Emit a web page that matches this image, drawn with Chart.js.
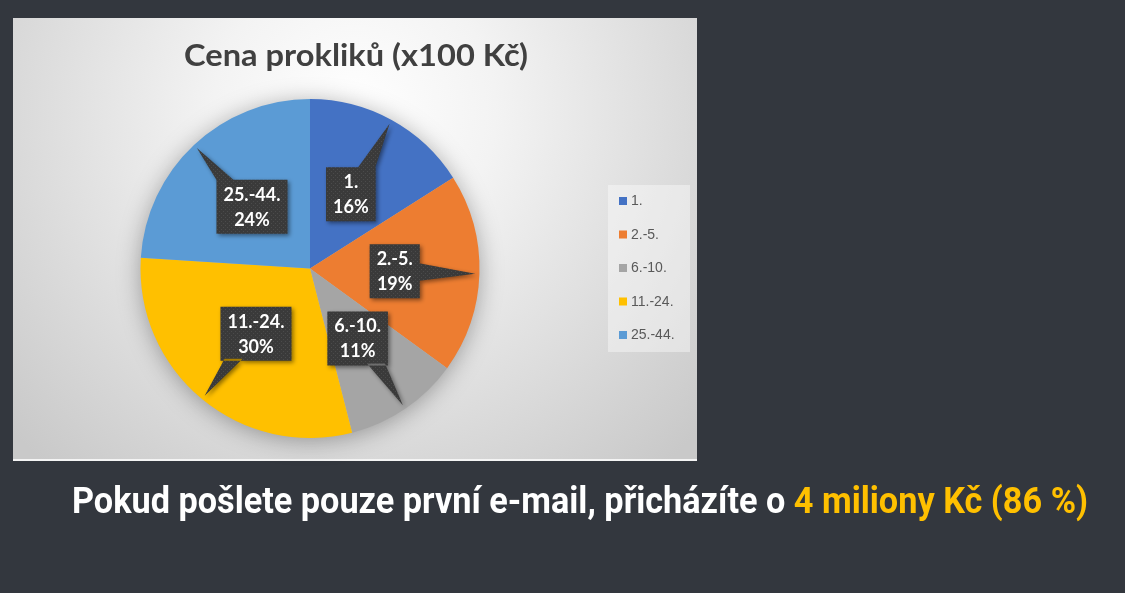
<!DOCTYPE html>
<html>
<head>
<meta charset="utf-8">
<script src="https://cdn.jsdelivr.net/npm/chart.js@4.4.1/dist/chart.umd.min.js"></script>
<style>
  html, body { margin:0; padding:0; background:#33373e; width:1125px; height:593px; overflow:hidden; }
  #wrap { position:absolute; left:0; top:0; width:1125px; height:593px; }
  #note { position:absolute; left:72px; top:481px; white-space:nowrap; font-family:Roboto, sans-serif; font-weight:700;
          font-size:37px; line-height:40px; color:#ffffff; transform-origin:0 0; }
  #note .hl { color:#ffc000; }
</style>
</head>
<body>
<div id="wrap"><canvas id="c" width="1125" height="593"></canvas></div>
<div id="note">Pokud pošlete pouze první e-mail, přicházíte o <span class="hl">4 miliony Kč (86 %)</span></div>
<script>
const categories = ['1.', '2.-5.', '6.-10.', '11.-24.', '25.-44.'];
const shares = [16, 19, 11, 30, 24];
const colors = ['#4472c4', '#ed7d31', '#a5a5a5', '#ffc000', '#5b9bd5'];
const chartTitle = 'Cena prokliků (x100 Kč)';

// fit bottom note width
(function(){
  const n = document.getElementById('note');
  const w = n.getBoundingClientRect().width;
  n.style.transform = 'scaleX(' + (1016 / w) + ')';
})();

const panel = {x:13, y:18, w:684, h:442};

function makePattern(ctx){
  const pc = document.createElement('canvas');
  pc.width = 4; pc.height = 4;
  const p = pc.getContext('2d');
  p.fillStyle = '#3a3a3a'; p.fillRect(0,0,4,4);
  p.fillStyle = '#4b4b4b'; p.fillRect(1,1,1,1); p.fillRect(3,3,1,1);
  return ctx.createPattern(pc, 'repeat');
}

const panelPlugin = {
  id: 'panel',
  beforeDraw(chart){
    const ctx = chart.ctx;
    ctx.save();
    const g = ctx.createRadialGradient(355, 110, 0, 355, 110, 470);
    g.addColorStop(0, '#ffffff');
    g.addColorStop(0.3, '#f3f3f3');
    g.addColorStop(1, '#c9c9c9');
    ctx.fillStyle = g;
    ctx.fillRect(panel.x, panel.y, panel.w, panel.h);
    ctx.fillStyle = '#f4f4f4';
    ctx.fillRect(panel.x, panel.y + panel.h - 1, panel.w, 2);
    // title
    ctx.fillStyle = '#404040';
    ctx.font = 'bold 31px Lato, "Open Sans", sans-serif';
    ctx.textAlign = 'center';
    ctx.textBaseline = 'alphabetic';
    const tw = ctx.measureText(chartTitle).width;
    const sx = 344 / tw;
    ctx.translate(356, 66);
    ctx.scale(sx, 1);
    ctx.fillText(chartTitle, 0, 0);
    ctx.restore();
  },
  beforeDatasetsDraw(chart){
    const meta = chart.getDatasetMeta(0);
    if (!meta.data.length) return;
    const a = meta.data[0];
    const ctx = chart.ctx;
    ctx.save();
    ctx.shadowColor = 'rgba(0,0,0,0.35)';
    ctx.shadowBlur = 24;
    ctx.shadowOffsetY = 3;
    ctx.fillStyle = '#bbbbbb';
    ctx.beginPath();
    ctx.arc(a.x, a.y, a.outerRadius - 1, 0, Math.PI * 2);
    ctx.fill();
    ctx.restore();
  },
  afterDatasetsDraw(chart){
    const ctx = chart.ctx;
    const meta = chart.getDatasetMeta(0);
    const data = chart.data.datasets[0].data;
    const sum = data.reduce((s, v) => s + v, 0);
    const pat = makePattern(ctx);
    ctx.save();
    ctx.font = 'bold 18px Lato, "Open Sans", sans-serif';
    meta.data.forEach((arc, i) => {
      const p = arc.getProps(['x','y','startAngle','endAngle','outerRadius'], true);
      const mid = (p.startAngle + p.endAngle) / 2;
      const R = p.outerRadius;
      const cx = p.x + Math.cos(mid) * R * 0.5;
      const cy = p.y + Math.sin(mid) * R * 0.5;
      const tx = p.x + Math.cos(mid) * R * 0.975;
      const ty = p.y + Math.sin(mid) * R * 0.975;
      const l1 = chart.data.labels[i];
      const l2 = Math.round(data[i] / sum * 100) + '%';
      const tw = Math.max(ctx.measureText(l1).width, ctx.measureText(l2).width);
      const hw = tw / 2 + 7, hh = 27;
      const dx = tx - cx, dy = ty - cy;
      const tX = Math.abs(dx) > 1e-6 ? hw / Math.abs(dx) : Infinity;
      const tY = Math.abs(dy) > 1e-6 ? hh / Math.abs(dy) : Infinity;
      let b1, b2;
      const bw = 9;
      if (tX < tY) {
        const ex = cx + Math.sign(dx) * (hw - 2);
        let yy = cy + dy * tX;
        yy = Math.max(cy - hh + bw, Math.min(cy + hh - bw, yy));
        b1 = [ex, yy - bw]; b2 = [ex, yy + bw];
      } else {
        const ey = cy + Math.sign(dy) * (hh - 2);
        let xx = cx + dx * tY;
        xx = Math.max(cx - hw + bw, Math.min(cx + hw - bw, xx));
        b1 = [xx - bw, ey]; b2 = [xx + bw, ey];
      }
      ctx.save();
      ctx.shadowColor = 'rgba(0,0,0,0.45)';
      ctx.shadowBlur = 4;
      ctx.shadowOffsetX = 2;
      ctx.shadowOffsetY = 2;
      ctx.fillStyle = pat;
      ctx.beginPath();
      ctx.rect(cx - hw, cy - hh, hw * 2, hh * 2);
      ctx.moveTo(b1[0], b1[1]);
      ctx.lineTo(tx, ty);
      ctx.lineTo(b2[0], b2[1]);
      ctx.closePath();
      ctx.fill('nonzero');
      ctx.restore();
      ctx.fillStyle = '#ffffff';
      ctx.textAlign = 'center';
      ctx.textBaseline = 'middle';
      ctx.fillText(l1, cx, cy - 12);
      ctx.fillText(l2, cx, cy + 13);
    });
    ctx.restore();
  },
  afterDraw(chart){
    const ctx = chart.ctx;
    ctx.save();
    ctx.fillStyle = 'rgba(255,255,255,0.4)';
    ctx.fillRect(608, 185, 82, 167);
    ctx.font = '14px "Liberation Sans", Arial, sans-serif';
    ctx.textBaseline = 'middle';
    ctx.textAlign = 'left';
    chart.data.labels.forEach((lab, i) => {
      const y = 185 + 16 + i * 33.5;
      ctx.fillStyle = chart.data.datasets[0].backgroundColor[i];
      ctx.fillRect(619, y - 4, 8, 8);
      ctx.fillStyle = '#595959';
      ctx.fillText(lab, 631, y + 0.5);
    });
    ctx.restore();
  }
};

new Chart(document.getElementById('c'), {
  type: 'pie',
  data: {
    labels: categories,
    datasets: [{ data: shares, backgroundColor: colors, borderWidth: 0 }]
  },
  options: {
    responsive: false,
    animation: false,
    layout: { padding: { left: 140, right: 645, top: 99, bottom: 155 } },
    plugins: { legend: { display: false }, tooltip: { enabled: false }, title: { display: false } }
  },
  plugins: [panelPlugin]
});
</script>
</body>
</html>
